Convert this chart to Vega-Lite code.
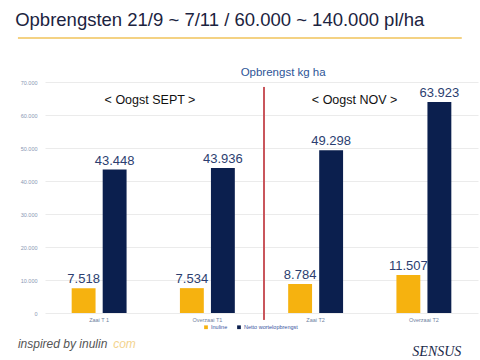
{
  "$schema": "https://vega.github.io/schema/vega-lite/v6.json",
  "width": 433,
  "height": 231,
  "autosize": {"type": "none"},
  "padding": {"left": 45, "top": 82, "right": 2, "bottom": 47},
  "background": "white",
  "config": {"font": "Liberation Sans", "view": {"stroke": null},
    "locale": {"number": {"decimal": ",", "thousands": ".", "grouping": [3], "currency": ["€", ""]}}},
  "title": {"text": "Opbrengsten 21/9 ~ 7/11 / 60.000 ~ 140.000 pl/ha", "anchor": "start", "dx": -2, "offset": -7, "baseline": "alphabetic", "fontSize": 18.5, "fontWeight": "normal", "color": "#1B2340", "font": "Liberation Sans"},
  "data": {"values": [
    {"cat": "Zaai T 1", "series": "Inuline", "value": 7518},
    {"cat": "Zaai T 1", "series": "Netto wortelopbrengst", "value": 43448},
    {"cat": "Overzaai T1", "series": "Inuline", "value": 7534},
    {"cat": "Overzaai T1", "series": "Netto wortelopbrengst", "value": 43936},
    {"cat": "Zaai T2", "series": "Inuline", "value": 8784},
    {"cat": "Zaai T2", "series": "Netto wortelopbrengst", "value": 49298},
    {"cat": "Overzaai T2", "series": "Inuline", "value": 11507},
    {"cat": "Overzaai T2", "series": "Netto wortelopbrengst", "value": 63923}
  ]},
  "encoding": {
    "x": {"field": "cat", "type": "nominal", "sort": null,
      "scale": {"paddingInner": 0, "paddingOuter": 0},
      "axis": {"title": null, "labelAngle": 0, "labelFontSize": 5.5, "labelColor": "#6F7FA0", "ticks": false, "domain": false, "labelPadding": 4}},
    "y": {"field": "value", "type": "quantitative", "scale": {"domain": [0, 70000], "nice": false},
      "axis": {"title": null, "values": [0, 10000, 20000, 30000, 40000, 50000, 60000, 70000], "format": ",d", "labelOverlap": false, "labelFlush": false, "labelFontSize": 5.5, "labelColor": "#8A97B3", "ticks": false, "domain": false, "labelPadding": 8, "gridColor": "#E6E6E6", "gridWidth": 0.8}}
  },
  "layer": [
    {
      "mark": {"type": "bar"},
      "encoding": {
        "xOffset": {"field": "series", "type": "nominal", "scale": {"paddingInner": 0.23, "paddingOuter": 0.86}},
        "color": {"field": "series", "type": "nominal",
          "scale": {"domain": ["Inuline", "Netto wortelopbrengst"], "range": ["#F6B20F", "#0B1F4E"]},
          "legend": {"title": null, "orient": "none", "legendX": 158, "legendY": 242, "direction": "horizontal", "symbolType": "square", "symbolSize": 14, "labelFontSize": 5.5, "labelColor": "#3A55A0", "columnPadding": 8, "labelOffset": 2}}
      }
    },
    {
      "mark": {"type": "text", "baseline": "alphabetic", "dy": -5, "fontSize": 13, "fontWeight": "normal", "color": "#2C3E70"},
      "encoding": {
        "xOffset": {"field": "series", "type": "nominal"},
        "text": {"field": "value", "type": "quantitative", "format": ",d"}
      }
    },
    {
      "transform": [{"filter": "datum.value == 63923"}],
      "mark": {"type": "rule", "color": "#C9565C", "strokeWidth": 2},
      "encoding": {
        "x": {"datum": "Zaai T2", "bandPosition": 0.023},
        "y": {"datum": 68500},
        "y2": {"datum": -2100}
      }
    },
    {
      "transform": [{"filter": "datum.value == 63923"}],
      "mark": {"type": "rule", "color": "#F0C35A", "strokeWidth": 1.5},
      "encoding": {
        "x": {"datum": "Zaai T 1", "bandPosition": -0.25},
        "x2": {"datum": "Overzaai T2", "bandPosition": 0.85},
        "y": {"datum": 83300}
      }
    },
    {
      "transform": [{"filter": "datum.value == 63923"}],
      "mark": {"type": "text", "fontSize": 11.5, "fontWeight": "normal", "color": "#2E5597", "baseline": "middle"},
      "encoding": {
        "x": {"datum": "Zaai T2", "bandPosition": 0.2},
        "y": {"datum": 72700},
        "text": {"value": "Opbrengst kg ha"}
      }
    },
    {
      "transform": [{"filter": "datum.value == 63923"}],
      "mark": {"type": "text", "fontSize": 12.5, "fontWeight": "normal", "color": "#111111", "baseline": "middle"},
      "encoding": {
        "x": {"datum": "Zaai T 1", "bandPosition": 0.97},
        "y": {"datum": 64500},
        "text": {"value": "< Oogst  SEPT >"}
      }
    },
    {
      "transform": [{"filter": "datum.value == 63923"}],
      "mark": {"type": "text", "fontSize": 12.5, "fontWeight": "normal", "color": "#111111", "baseline": "middle"},
      "encoding": {
        "x": {"datum": "Zaai T2", "bandPosition": 0.86},
        "y": {"datum": 64500},
        "text": {"value": "< Oogst  NOV >"}
      }
    },
    {
      "transform": [{"filter": "datum.value == 63923"}],
      "mark": {"type": "text", "fontSize": 12, "fontWeight": "normal", "fontStyle": "italic", "color": "#555555", "align": "left", "baseline": "middle"},
      "encoding": {
        "x": {"datum": "Zaai T 1", "bandPosition": -0.25},
        "y": {"datum": -9400},
        "text": {"value": "inspired by inulin"}
      }
    },
    {
      "transform": [{"filter": "datum.value == 63923"}],
      "mark": {"type": "text", "fontSize": 12, "fontWeight": "normal", "fontStyle": "italic", "color": "#F3D38E", "align": "left", "baseline": "middle"},
      "encoding": {
        "x": {"datum": "Zaai T 1", "bandPosition": 0.63},
        "y": {"datum": -9400},
        "text": {"value": "com"}
      }
    },
    {
      "transform": [{"filter": "datum.value == 63923"}],
      "mark": {"type": "text", "fontSize": 14, "fontWeight": "normal", "fontStyle": "italic", "font": "Liberation Serif", "color": "#1B2A4A", "baseline": "middle"},
      "encoding": {
        "x": {"datum": "Overzaai T2", "bandPosition": 0.62},
        "y": {"datum": -11800},
        "text": {"value": "SENSUS"}
      }
    }
  ]
}
